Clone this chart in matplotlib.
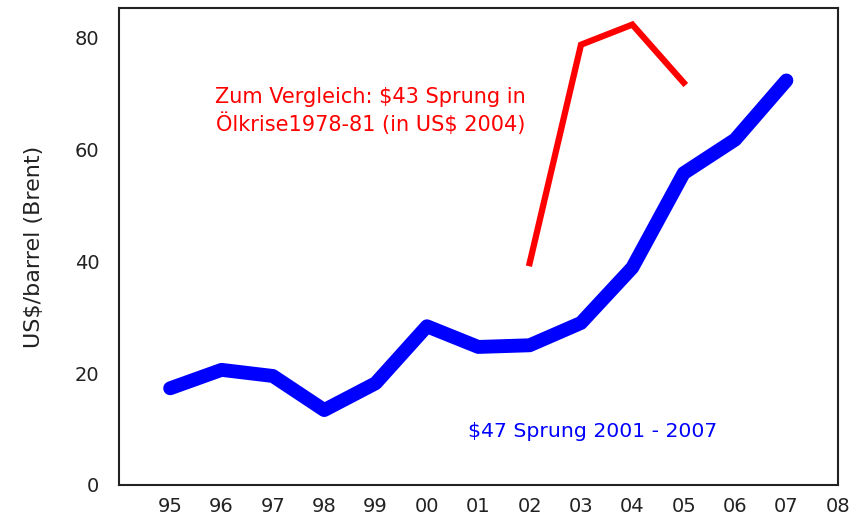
import matplotlib
matplotlib.use("Agg")
import matplotlib.pyplot as plt

plt.rcParams["font.family"] = ["DejaVu Sans"]

# Brent price, 1995-2007 (x = 95..107)
years = [95, 96, 97, 98, 99, 100, 101, 102, 103, 104, 105, 106, 107]
brent = [17.3, 20.6, 19.5, 13.4, 18.2, 28.4, 24.7, 25.0, 29.0, 38.9, 55.8, 61.8, 72.4]

# 1978-81 oil crisis jump, shifted onto 2002-2005
crisis_x = [102, 103, 104, 105]
crisis = [39.7, 78.8, 82.4, 72.0]

tick_pos = list(range(95, 109))
tick_labels = ["95", "96", "97", "98", "99", "00", "01", "02", "03", "04",
               "05", "06", "07", "08"]

fig = plt.figure(figsize=(8.61, 5.22), dpi=100)
ax = fig.add_axes([0.138, 0.071, 0.835, 0.914])

ax.plot(years, brent, color="#0000ff", linewidth=10, solid_joinstyle="round",
        solid_capstyle="round")
ax.plot(crisis_x, crisis, color="#ff0000", linewidth=4.5, solid_joinstyle="miter")

ax.text(98.9, 67, "Zum Vergleich: $43 Sprung in\nÖlkrise1978-81 (in US$ 2004)",
        color="#ff0000", fontsize=15, ha="center", va="center", linespacing=1.3)
ax.text(100.8, 9.6, "$47 Sprung 2001 - 2007", color="#0000ff", fontsize=14.7,
        ha="left", va="center")

ax.set_xlim(94, 108)
ax.set_ylim(0, 85.4)
ax.set_xticks(tick_pos)
ax.set_xticklabels(tick_labels)
ax.set_yticks([0, 20, 40, 60, 80])
ax.tick_params(length=0, labelsize=14, colors="#222222")
ax.tick_params(axis="x", pad=9)
ax.tick_params(axis="y", pad=14)
ax.set_ylabel("US$/barrel (Brent)", fontsize=16, color="#222222", labelpad=22)
for s in ax.spines.values():
    s.set_linewidth(1.5)
    s.set_color("#222222")

fig.savefig("out.png", dpi=100)
